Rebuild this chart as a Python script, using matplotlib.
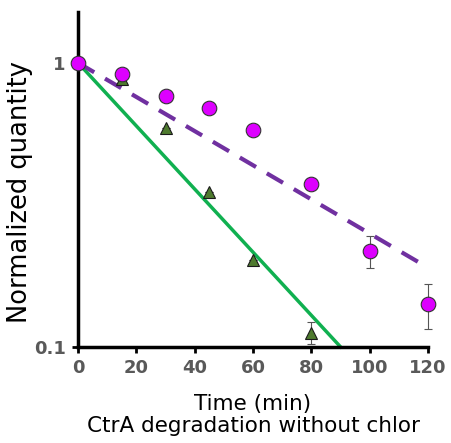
import matplotlib
matplotlib.use('Agg')
import matplotlib.pyplot as plt
from matplotlib.ticker import NullLocator

# data
time_circ = [0, 15, 30, 45, 60, 80, 100, 120]
qty_circ = [1.0, 0.91, 0.765, 0.695, 0.58, 0.375, 0.218, 0.141]
err_circ = [0, 0, 0, 0, 0, 0, 0.028, 0.025]

time_tri = [15, 30, 45, 60, 80]
qty_tri = [0.88, 0.59, 0.351, 0.202, 0.112]
err_tri = [0, 0, 0, 0, 0.01]

# fitted decay lines
fit_circ_t = [0, 120]
fit_circ_y = [1.0, 0.19]
fit_tri_t = [0, 90]
fit_tri_y = [1.0, 0.1]

fig = plt.figure(figsize=(4.51, 4.43), dpi=100)
ax = fig.add_axes([0.173, 0.217, 0.776, 0.756])

ax.plot(fit_tri_t, fit_tri_y, color='#10B050', lw=2.5, zorder=2)
ax.plot(fit_circ_t, fit_circ_y, color='#7030A0', lw=3, ls=(0, (4.5, 3)), zorder=2)

ax.errorbar(time_tri, qty_tri, yerr=err_tri, fmt='^', color='#4E7A2E', mec='#1a1a1a',
            mew=0.8, ms=9, ecolor='#555555', elinewidth=0.8, capsize=3, zorder=3)
ax.errorbar(time_circ, qty_circ, yerr=err_circ, fmt='o', color='#DD00FF', mec='#333333',
            mew=0.8, ms=10.5, ecolor='#555555', elinewidth=0.8, capsize=3, zorder=4)

ax.set_yscale('log')
ax.set_xlim(0, 120)
ax.set_ylim(0.1, 1.51)
ax.set_xticks([0, 20, 40, 60, 80, 100, 120])
ax.set_yticks([0.1, 1])
ax.set_yticklabels(['0.1', '1'])
ax.yaxis.set_minor_locator(NullLocator())

for s in ['top', 'right']:
    ax.spines[s].set_visible(False)
for s in ['left', 'bottom']:
    ax.spines[s].set_linewidth(2.5)
ax.tick_params(axis='both', width=2, length=4, direction='out', pad=5)
for lab in ax.get_xticklabels() + ax.get_yticklabels():
    lab.set_fontsize(13)
    lab.set_fontweight('bold')
    lab.set_color('#595959')

# let markers on the axes show in full
for art in ax.get_children():
    art.set_clip_on(False)

ax.set_xlabel('Time (min)\nCtrA degradation without chlor', fontsize=15.5,
              linespacing=1.15, labelpad=12)
ax.set_ylabel('Normalized quantity', fontsize=18.5)
ax.yaxis.set_label_coords(-0.13, 0.463)

plt.savefig('out.png', dpi=100)
